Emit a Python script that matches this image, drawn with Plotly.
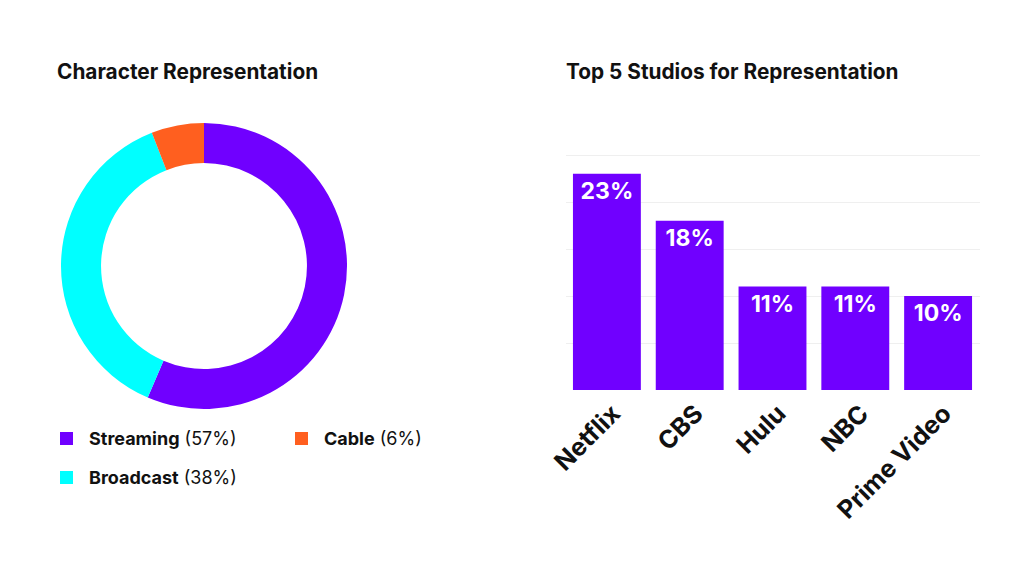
import plotly.graph_objects as go

# donut data
segments = ["Streaming", "Broadcast", "Cable"]
shares = [57, 38, 6]
seg_colors = ["#7000FF", "#00FFFF", "#FF5F1F"]

# bar data
studios = ["Netflix", "CBS", "Hulu", "NBC", "Prime Video"]
studio_pct = [23, 18, 11, 11, 10]

FONT = "Inter"
PURPLE = "#7000FF"
W, H = 1024, 576
PAD = 8  # page body margin around the figure


def px(x):
    return (x - PAD) / W


def py(y):
    return 1 - (y - PAD) / H


fig = go.Figure()

fig.add_trace(go.Pie(
    labels=segments,
    values=shares,
    hole=0.72,
    sort=False,
    direction="clockwise",
    rotation=0,
    marker=dict(colors=seg_colors, line=dict(width=0)),
    textinfo="none",
    showlegend=False,
    domain=dict(x=[px(61), px(347)], y=[py(409), py(123)]),
))

fig.add_trace(go.Bar(
    x=studios,
    y=studio_pct,
    marker=dict(color=PURPLE, line=dict(width=0)),
    text=[f"{v}%" for v in studio_pct],
    textposition="inside",
    insidetextanchor="end",
    textfont=dict(family=FONT, size=23, color="white", weight="bold"),
    showlegend=False,
))

# legend made of squares and labels
legend_pos = [(60, 438), (60, 477), (295, 438)]
annotations = []
shapes = []
for name, val, col, (lx, ly) in zip(segments, shares, seg_colors, legend_pos):
    shapes.append(dict(type="rect", xref="paper", yref="paper",
                       x0=px(lx), x1=px(lx + 13), y0=py(ly + 7), y1=py(ly - 6),
                       fillcolor=col, line=dict(width=0)))
    annotations.append(dict(
        xref="paper", yref="paper", x=px(lx + 27), y=py(ly),
        xanchor="left", yanchor="middle", showarrow=False,
        text=f"<b>{name}</b> ({val}%)",
        font=dict(family=FONT, size=18, color="#111"),
    ))

for title, tx in [("Character Representation", 55), ("Top 5 Studios for Representation", 564)]:
    annotations.append(dict(xref="paper", yref="paper", x=px(tx), y=py(71),
                            xanchor="left", yanchor="middle", showarrow=False,
                            text=f"<b>{title}</b>",
                            font=dict(family=FONT, size=20.8, color="#111")))

fig.update_layout(
    width=W, height=H,
    margin=dict(l=0, r=0, t=0, b=0, autoexpand=False),
    paper_bgcolor="white", plot_bgcolor="white",
    bargap=0.18,
    annotations=annotations,
    shapes=shapes,
    xaxis=dict(domain=[px(565.5), px(979.5)], tickangle=-45, automargin=False,
               tickfont=dict(family=FONT, size=25, color="#111", weight="bold"),
               ticklabelshift=6, ticklabelstandoff=3,
               showline=False, ticks="", showgrid=False),
    yaxis=dict(domain=[py(390), py(150.3)], range=[0, 25.5], automargin=False,
               tickvals=[5, 10, 15, 20, 25], showticklabels=False, showgrid=True,
               gridcolor="#efefef", gridwidth=1, zeroline=False),
)

fig.write_html("out.html")
